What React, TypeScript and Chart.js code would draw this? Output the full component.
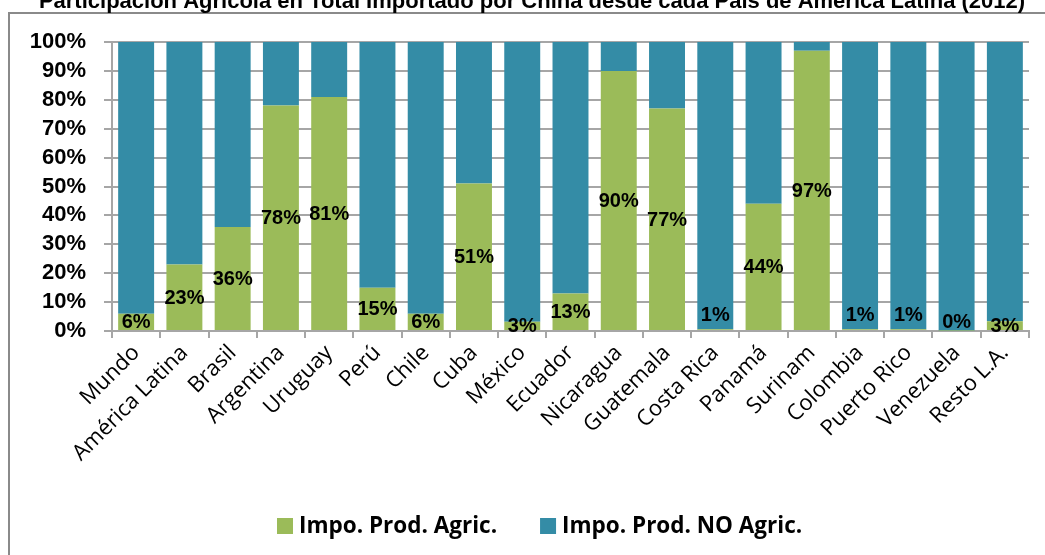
import React, { useEffect, useRef } from 'react';
import { Chart, registerables } from 'chart.js';

Chart.register(...registerables);

const TITLE = 'Participación Agrícola en Total Importado por China desde cada País de América Latina (2012)';

const categories = [
  'Mundo', 'América Latina', 'Brasil', 'Argentina', 'Uruguay', 'Perú', 'Chile', 'Cuba', 'México',
  'Ecuador', 'Nicaragua', 'Guatemala', 'Costa Rica', 'Panamá', 'Surinam', 'Colombia', 'Puerto Rico',
  'Venezuela', 'Resto L.A.',
];

const agricShare = [6, 23, 36, 78, 81, 15, 6, 51, 3.2, 13, 90, 77, 0.6, 44, 97, 0.6, 0.6, 0.2, 3.4];
const nonAgricShare = [94, 77, 64, 22, 19, 85, 94, 49, 96.8, 87, 10, 23, 99.4, 56, 3, 99.4, 99.4, 99.8, 96.6];

const seriesNames = ['Impo. Prod. Agric.', 'Impo. Prod. NO Agric.'];
const yTickValues = [0, 10, 20, 30, 40, 50, 60, 70, 80, 90, 100];

const GREEN = '#9BBB59';
const TEAL = '#348CA6';
const GRID = '#a6a6a6';

// small visual nudges (px) for labels of tiny bars, as in the original layout
const labelNudge: Record<string, number> = {
  'Costa Rica': -15,
  Colombia: -15,
  'Puerto Rico': -15,
  Venezuela: -9,
};

const decorPlugin = {
  id: 'decor',
  beforeDraw(chart: any) {
    const ctx = chart.ctx as CanvasRenderingContext2D;
    ctx.save();
    ctx.fillStyle = '#ffffff';
    ctx.fillRect(0, 0, chart.width, chart.height);
    ctx.strokeStyle = '#8a8a8a';
    ctx.lineWidth = 2;
    ctx.strokeRect(9, 13, 1060, 580);
    ctx.font = 'bold 22px "Liberation Sans", Arial, sans-serif';
    ctx.fillStyle = '#000';
    ctx.textAlign = 'center';
    ctx.textBaseline = 'alphabetic';
    ctx.fillText(TITLE, 532, 8);
    ctx.restore();
  },
  afterDatasetsDraw(chart: any) {
    const ctx = chart.ctx as CanvasRenderingContext2D;
    const meta = chart.getDatasetMeta(0);
    ctx.save();
    ctx.font = 'bold 20px "Liberation Sans", Arial, sans-serif';
    ctx.fillStyle = '#000';
    ctx.textAlign = 'center';
    ctx.textBaseline = 'middle';
    meta.data.forEach((bar: any, i: number) => {
      const v = agricShare[i];
      const cy = (bar.y + bar.base) / 2 + (labelNudge[categories[i]] || 0);
      ctx.fillText(Math.round(v) + '%', bar.x, cy + 1);
    });
    ctx.restore();
  },
  afterDraw(chart: any) {
    const ctx = chart.ctx as CanvasRenderingContext2D;
    ctx.save();
    ctx.font = 'bold 22.5px "Open Sans", sans-serif';
    ctx.textAlign = 'left';
    ctx.textBaseline = 'alphabetic';
    let x = 277;
    chart.data.datasets.forEach((ds: any) => {
      ctx.fillStyle = ds.backgroundColor;
      ctx.fillRect(x, 518, 16, 16);
      ctx.fillStyle = '#000';
      ctx.fillText(ds.label, x + 22, 533);
      x += 22 + ctx.measureText(ds.label).width + 43;
    });
    ctx.restore();
  },
};

export default function App() {
  const ref = useRef<HTMLCanvasElement | null>(null);

  useEffect(() => {
    if (!ref.current) return;
    const chart = new Chart(ref.current, {
      type: 'bar',
      data: {
        labels: categories,
        datasets: [
          {
            label: seriesNames[0],
            data: agricShare,
            backgroundColor: GREEN,
            barPercentage: 0.745,
            categoryPercentage: 1,
          },
          {
            label: seriesNames[1],
            data: nonAgricShare,
            backgroundColor: TEAL,
            barPercentage: 0.745,
            categoryPercentage: 1,
          },
        ],
      },
      options: {
        responsive: false,
        animation: false,
        layout: { padding: { left: 0, right: 16, top: 42, bottom: 0 } },
        plugins: {
          legend: { display: false },
          title: { display: false },
          tooltip: { enabled: false },
        },
        scales: {
          x: {
            stacked: true,
            grid: {
              display: true,
              drawOnChartArea: false,
              drawTicks: true,
              tickLength: 7,
              color: GRID,
              lineWidth: 2,
              offset: true,
            },
            border: { color: GRID, width: 2 },
            ticks: {
              autoSkip: false,
              maxRotation: 45,
              minRotation: 45,
              padding: 2,
              color: '#000',
              font: { family: '"Open Sans", sans-serif', size: 22 },
            },
            afterFit: (s: any) => {
              s.height = 224;
            },
          },
          y: {
            stacked: true,
            min: 0,
            max: 100,
            afterBuildTicks: (s: any) => {
              s.ticks = yTickValues.map((v) => ({ value: v }));
            },
            ticks: {
              autoSkip: false,
              stepSize: 10,
              padding: 18,
              color: '#000',
              font: { family: '"Liberation Sans", Arial, sans-serif', size: 22, weight: 'bold' },
              callback: (v: any) => v + '%',
            },
            grid: { color: GRID, lineWidth: 2, tickLength: 8 },
            border: { color: GRID, width: 2 },
            afterFit: (s: any) => {
              s.width = 112;
            },
          },
        },
      },
      plugins: [decorPlugin],
    } as any);
    return () => chart.destroy();
  }, []);

  return (
    <div style={{ position: 'fixed', left: 0, top: 0, width: 1045, height: 555 }}>
      <canvas ref={ref} width={1045} height={555} style={{ display: 'block', width: 1045, height: 555 }} />
    </div>
  );
}
